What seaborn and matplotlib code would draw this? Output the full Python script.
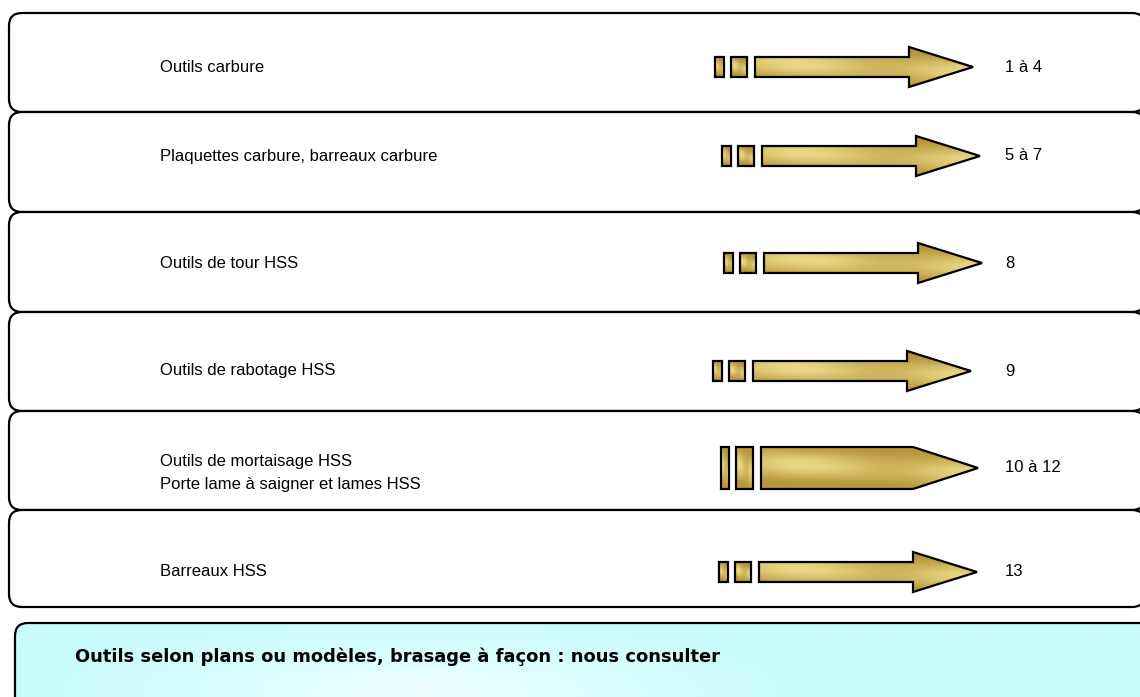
import numpy as np
import matplotlib
matplotlib.use("Agg")
import matplotlib.pyplot as plt
import seaborn as sns
from matplotlib.patches import FancyBboxPatch, Polygon

sns.set_theme(style="white")
plt.rcParams['font.family'] = ['Liberation Sans', 'DejaVu Sans']

# ---- data ----
labels = ["Outils carbure",
          "Plaquettes carbure, barreaux carbure",
          "Outils de tour HSS",
          "Outils de rabotage HSS",
          "Outils de mortaisage HSS\nPorte lame à saigner et lames HSS",
          "Barreaux HSS"]
ranges = ["1 à 4", "5 à 7", "8", "9", "10 à 12", "13"]
footer = "Outils selon plans ou modèles, brasage à façon : nous consulter"

# ---- layout (pixels) ----
W, H = 1140, 697
row_edges = [13, 112, 212, 312, 411, 510, 607]
arrow_cy = [67, 156, 263, 371, 468, 572]
arrow_x0 = [715, 722, 724, 713, 721, 719]
pointed = [False, False, False, False, True, False]
RIGHT = 1145

fig = plt.figure(figsize=(W / 100, H / 100), dpi=100)
ax = fig.add_axes([0, 0, 1, 1])
ax.set_xlim(0, W)
ax.set_ylim(H, 0)
ax.axis("off")


def gold_fill(ax, patch, x0, x1, y0, y1):
    nx, ny = 200, 60
    xx, yy = np.meshgrid(np.linspace(0, 1, nx), np.linspace(0, 1, ny))
    t = yy - 0.25 * (xx - 0.5)
    v = np.clip(np.cos((t - 0.5) * np.pi * 1.1), 0, 1) ** 1.5
    v = v * (0.75 + 0.25 * np.sin(xx * np.pi * 2.5))
    dark = np.array([182, 150, 58]) / 255
    light = np.array([234, 216, 132]) / 255
    img = dark[None, None, :] * (1 - v[..., None]) + light[None, None, :] * v[..., None]
    im = ax.imshow(img, extent=(x0, x1, y1, y0), origin="upper",
                   interpolation="bilinear", zorder=3, aspect="auto")
    im.set_clip_path(patch)


def add_shape(ax, pts):
    pts = np.array(pts, dtype=float)
    fill = Polygon(pts, closed=True, facecolor="none", edgecolor="none", zorder=3)
    ax.add_patch(fill)
    gold_fill(ax, fill, pts[:, 0].min(), pts[:, 0].max(), pts[:, 1].min(), pts[:, 1].max())
    ax.add_patch(Polygon(pts, closed=True, facecolor="none", edgecolor="black",
                         lw=1.6, zorder=4, joinstyle="miter"))


# row boxes
for i in range(len(labels)):
    y0, y1 = row_edges[i], row_edges[i + 1]
    ax.add_patch(FancyBboxPatch((9, y0), RIGHT - 9, y1 - y0,
                                boxstyle="round,pad=0,rounding_size=13",
                                facecolor="white", edgecolor="black", lw=1.6, zorder=1))

for i, (lab, rng) in enumerate(zip(labels, ranges)):
    cy = arrow_cy[i]
    x0 = arrow_x0[i]
    if not pointed[i]:
        bh, hh = 10, 20
        add_shape(ax, [(x0, cy - bh), (x0 + 9, cy - bh), (x0 + 9, cy + bh), (x0, cy + bh)])
        add_shape(ax, [(x0 + 16, cy - bh), (x0 + 32, cy - bh), (x0 + 32, cy + bh), (x0 + 16, cy + bh)])
        bx = x0 + 40
        hx = x0 + 194
        tip = x0 + 258
        add_shape(ax, [(bx, cy - bh), (hx, cy - bh), (hx, cy - hh), (tip, cy),
                       (hx, cy + hh), (hx, cy + bh), (bx, cy + bh)])
    else:
        bh = 21
        add_shape(ax, [(x0, cy - bh), (x0 + 8, cy - bh), (x0 + 8, cy + bh), (x0, cy + bh)])
        add_shape(ax, [(x0 + 15, cy - bh), (x0 + 32, cy - bh), (x0 + 32, cy + bh), (x0 + 15, cy + bh)])
        bx = x0 + 40
        hx = x0 + 192
        tip = x0 + 257
        add_shape(ax, [(bx, cy - bh), (hx, cy - bh), (tip, cy), (hx, cy + bh), (bx, cy + bh)])

    ty = cy if "\n" not in lab else cy + 5
    ax.text(160, ty, lab, fontsize=12, ha="left", va="center", color="black",
            linespacing=1.65, zorder=5)
    ax.text(1005, cy, rng, fontsize=12, ha="left", va="center", color="black", zorder=5)

# footer box with cyan gradient
fb = FancyBboxPatch((15, 623), RIGHT + 10 - 15, 100,
                    boxstyle="round,pad=0,rounding_size=13",
                    facecolor="none", edgecolor="black", lw=1.6, zorder=2)
ax.add_patch(fb)
nx, ny = 300, 60
xx, yy = np.meshgrid(np.linspace(15, 1165, nx), np.linspace(623, 723, ny))
d = np.sqrt(((xx - 420) / 420) ** 2 + ((yy - 690) / 80) ** 2)
w = np.clip(1 - d, 0, 1) ** 1.2
base = np.array([200, 252, 253]) / 255
hi = np.array([238, 255, 255]) / 255
img = base[None, None, :] * (1 - w[..., None]) + hi[None, None, :] * w[..., None]
im = ax.imshow(img, extent=(15, 1165, 723, 623), origin="upper",
               interpolation="bilinear", zorder=1, aspect="auto")
im.set_clip_path(fb)
ax.text(75, 657, footer, fontsize=12.9, fontweight="bold", ha="left", va="center",
        family=["DejaVu Sans"], color="black", zorder=5)

fig.savefig("out.png", dpi=100)
